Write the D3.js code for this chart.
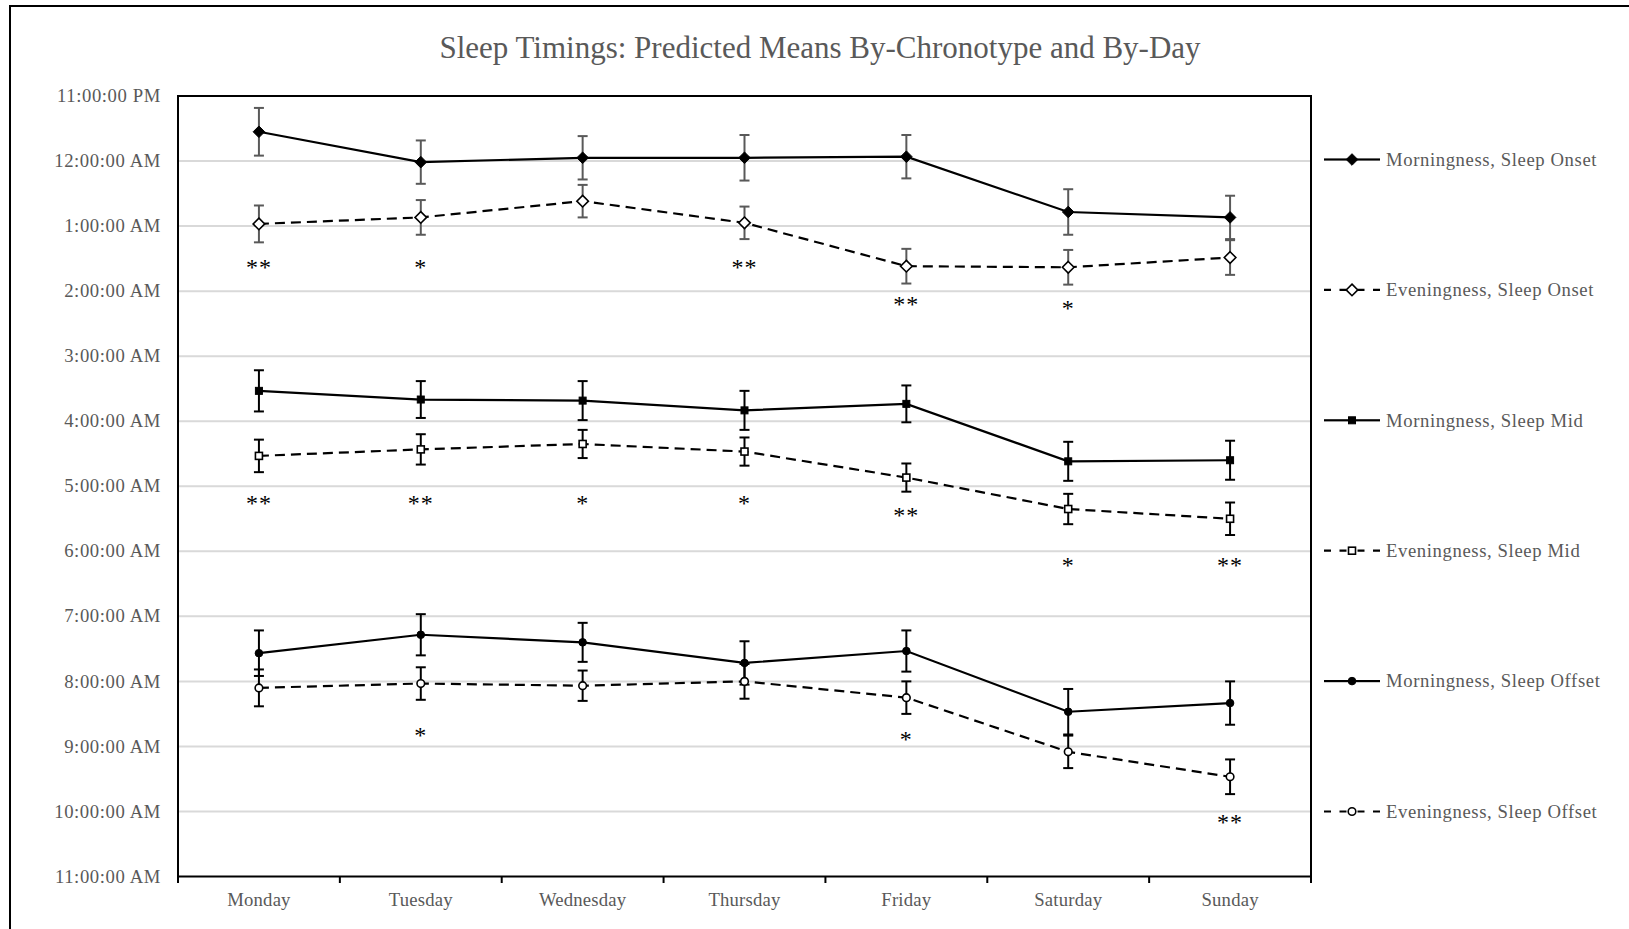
<!DOCTYPE html>
<html>
<head>
<meta charset="utf-8">
<script src="https://cdn.jsdelivr.net/npm/d3@7"></script>
<style>
  html, body { margin: 0; padding: 0; background: #ffffff; overflow: hidden; }
  svg { display: block; }
  text { font-family: "Liberation Serif", "Times New Roman", serif; }
</style>
</head>
<body>
<svg id="chart" width="1629" height="929"></svg>
<script>
// ---- Data: predicted mean clock times (HH:MM) and error half-widths (minutes) ----
const days = ["Monday", "Tuesday", "Wednesday", "Thursday", "Friday", "Saturday", "Sunday"];

const morningOnset    = ["23:33", "00:01", "23:57", "23:57", "23:56", "00:47", "00:52"];
const morningOnsetErr = [22, 20, 20, 21, 20, 21, 20];
const eveningOnset    = ["00:58", "00:52", "00:37", "00:57", "01:37", "01:38", "01:29"];
const eveningOnsetErr = [17, 16, 15, 15, 16, 16, 16];

const morningMid      = ["03:32", "03:40", "03:41", "03:50", "03:44", "04:37", "04:36"];
const morningMidErr   = [19, 17, 18, 18, 17, 18, 18];
const eveningMid      = ["04:32", "04:26", "04:21", "04:28", "04:52", "05:21", "05:30"];
const eveningMidErr   = [15, 14, 13, 13, 13, 14, 15];

const morningOffset    = ["07:34", "07:17", "07:24", "07:43", "07:32", "08:28", "08:20"];
const morningOffsetErr = [21, 19, 18, 20, 19, 21, 20];
const eveningOffset    = ["08:06", "08:02", "08:04", "08:00", "08:15", "09:05", "09:28"];
const eveningOffsetErr = [17, 15, 14, 16, 15, 15, 16];

// Significance of the chronotype difference per day, and the clock time each mark sits at
const onsetSig     = ["**", "*", "", "**", "**", "*", ""];
const onsetSigAt   = ["01:36", "01:36", "", "01:36", "02:10", "02:14", ""];
const midSig       = ["**", "**", "*", "*", "**", "*", "**"];
const midSigAt     = ["05:14", "05:14", "05:14", "05:14", "05:25", "06:11", "06:11"];
const offsetSig    = ["", "*", "", "", "*", "", "**"];
const offsetSigAt  = ["", "08:48", "", "", "08:51", "", "10:08"];

const axisStart = "23:00";
const axisEnd   = "11:00";
const title = "Sleep Timings: Predicted Means By-Chronotype and By-Day";

// ---- Helpers ----
const midnight = new Date(2021, 0, 4, 0, 0, 0);
function toDate(hm) {
  const [h, m] = hm.split(":").map(Number);
  let mins = h * 60 + m;
  if (h >= 12) mins -= 1440;           // evening times belong to the previous day
  return new Date(midnight.getTime() + mins * 60000);
}
function shift(date, mins) { return new Date(date.getTime() + mins * 60000); }

const series = [
  { name: "Morningness, Sleep Onset",    vals: morningOnset,  err: morningOnsetErr,  shape: "diamond", filled: true,  dashed: false, errColor: "#595959" },
  { name: "Eveningness, Sleep Onset",    vals: eveningOnset,  err: eveningOnsetErr,  shape: "diamond", filled: false, dashed: true,  errColor: "#595959" },
  { name: "Morningness, Sleep Mid",      vals: morningMid,    err: morningMidErr,    shape: "square",  filled: true,  dashed: false, errColor: "#000000" },
  { name: "Eveningness, Sleep Mid",      vals: eveningMid,    err: eveningMidErr,    shape: "square",  filled: false, dashed: true,  errColor: "#000000" },
  { name: "Morningness, Sleep Offset",   vals: morningOffset, err: morningOffsetErr, shape: "circle",  filled: true,  dashed: false, errColor: "#000000" },
  { name: "Eveningness, Sleep Offset",   vals: eveningOffset, err: eveningOffsetErr, shape: "circle",  filled: false, dashed: true,  errColor: "#000000" }
];
const annotations = [
  { marks: onsetSig,  at: onsetSigAt },
  { marks: midSig,    at: midSigAt },
  { marks: offsetSig, at: offsetSigAt }
];

// ---- Layout ----
const plot = { left: 178, right: 1311, top: 96, bottom: 876.5 };
const svg = d3.select("#chart");

const x = d3.scaleBand().domain(days).range([plot.left, plot.right]).padding(0);
const cx = d => x(d) + x.bandwidth() / 2;
const y = d3.scaleTime().domain([toDate(axisStart), toDate(axisEnd)]).range([plot.top, plot.bottom]);

// Outer frame of the figure
svg.append("path")
  .attr("d", "M10,940 V6 H1640")
  .attr("fill", "none").attr("stroke", "#000").attr("stroke-width", 2);

// Title
svg.append("text")
  .attr("x", 820).attr("y", 58)
  .attr("text-anchor", "middle")
  .attr("font-size", 31)
  .attr("fill", "#595959")
  .text(title);

// Horizontal gridlines, one per hour
const hourTicks = y.ticks(d3.timeHour.every(1));
svg.append("g").selectAll("line")
  .data(hourTicks.slice(1, -1))
  .join("line")
  .attr("x1", plot.left).attr("x2", plot.right)
  .attr("y1", d => y(d)).attr("y2", d => y(d))
  .attr("stroke", "#d9d9d9").attr("stroke-width", 2);

// Y axis labels
const yAxis = svg.append("g")
  .attr("transform", `translate(${plot.left},0)`)
  .call(d3.axisLeft(y).ticks(d3.timeHour.every(1))
    .tickFormat(d3.timeFormat("%-I:%M:%S %p"))
    .tickSize(0).tickPadding(17));
yAxis.select(".domain").remove();
yAxis.selectAll("text")
  .attr("font-family", "Liberation Serif, Times New Roman, serif")
  .attr("font-size", 18.7)
  .attr("letter-spacing", 0.6)
  .attr("fill", "#595959")
  .attr("dy", "0.3em");

// X axis labels
const xAxis = svg.append("g")
  .attr("transform", `translate(0,${plot.bottom})`)
  .call(d3.axisBottom(x).tickSize(0).tickPadding(16));
xAxis.select(".domain").remove();
xAxis.selectAll("text")
  .attr("font-family", "Liberation Serif, Times New Roman, serif")
  .attr("font-size", 18.7)
  .attr("letter-spacing", 0.2)
  .attr("fill", "#595959");

// Category boundary ticks
const boundaries = days.map(d => x(d)).concat([plot.right]);
svg.append("g").selectAll("line")
  .data(boundaries)
  .join("line")
  .attr("x1", d => d).attr("x2", d => d)
  .attr("y1", plot.bottom).attr("y2", plot.bottom + 6.5)
  .attr("stroke", "#000").attr("stroke-width", 2);

// Plot frame
svg.append("rect")
  .attr("x", plot.left).attr("y", plot.top)
  .attr("width", plot.right - plot.left).attr("height", plot.bottom - plot.top)
  .attr("fill", "none").attr("stroke", "#000").attr("stroke-width", 2);

// Marker drawing
function drawMarker(sel, s) {
  if (s.shape === "diamond") {
    const r = 5.8;
    sel.append("path").attr("d", `M0,${-r} L${r},0 L0,${r} L${-r},0 Z`);
  } else if (s.shape === "square") {
    sel.append("rect").attr("x", -3.5).attr("y", -3.5).attr("width", 7).attr("height", 7);
  } else {
    sel.append("circle").attr("r", 3.8);
  }
  sel.selectAll("path,rect,circle")
    .attr("fill", s.filled ? "#000" : "#fff")
    .attr("stroke", "#000")
    .attr("stroke-width", s.filled ? 1 : 1.6);
}

const line = d3.line().x(d => cx(d.day)).y(d => y(d.t));

series.forEach(s => {
  const pts = days.map((d, i) => ({ day: d, t: toDate(s.vals[i]), e: s.err[i] }));
  const g = svg.append("g");

  // error bars
  const eb = g.append("g").selectAll("g").data(pts).join("g");
  eb.append("line")
    .attr("x1", d => cx(d.day)).attr("x2", d => cx(d.day))
    .attr("y1", d => y(shift(d.t, -d.e))).attr("y2", d => y(shift(d.t, d.e)))
    .attr("stroke", s.errColor).attr("stroke-width", 2);
  [-1, 1].forEach(sign => {
    eb.append("line")
      .attr("x1", d => cx(d.day) - 5).attr("x2", d => cx(d.day) + 5)
      .attr("y1", d => y(shift(d.t, sign * d.e))).attr("y2", d => y(shift(d.t, sign * d.e)))
      .attr("stroke", s.errColor).attr("stroke-width", 2);
  });

  // connecting line
  g.append("path").datum(pts)
    .attr("d", line)
    .attr("fill", "none").attr("stroke", "#000").attr("stroke-width", 2.2)
    .attr("stroke-dasharray", s.dashed ? "10,6" : null);

  // markers
  g.append("g").selectAll("g").data(pts).join("g")
    .attr("transform", d => `translate(${cx(d.day)},${y(d.t)})`)
    .each(function () { drawMarker(d3.select(this), s); });
});

// Significance marks
annotations.forEach(a => {
  svg.append("g").selectAll("text")
    .data(days.map((d, i) => ({ day: d, mark: a.marks[i], at: a.at[i] })).filter(d => d.mark))
    .join("text")
    .attr("x", d => cx(d.day))
    .attr("y", d => y(toDate(d.at)) + 10)
    .attr("text-anchor", "middle")
    .attr("font-size", 24)
    .attr("letter-spacing", 1)
    .attr("fill", "#000")
    .text(d => d.mark);
});

// Legend
const legend = svg.append("g");
const legTop = 159.5, legStep = 130.4, legX0 = 1324, legX1 = 1380, legMid = 1352;
series.forEach((s, i) => {
  const ly = legTop + i * legStep;
  const item = legend.append("g");
  [[legX0, legMid], [legX1, legMid]].forEach(([a, b]) => {
    item.append("line")
      .attr("x1", a).attr("x2", b).attr("y1", ly).attr("y2", ly)
      .attr("stroke", "#000").attr("stroke-width", 2.2)
      .attr("stroke-dasharray", s.dashed ? "7,8.5" : null);
  });
  const m = item.append("g").attr("transform", `translate(${legMid},${ly})`);
  drawMarker(m, s);
  item.append("text")
    .attr("x", 1386).attr("y", ly + 6.3)
    .attr("font-size", 18.7)
    .attr("letter-spacing", 0.6)
    .attr("fill", "#595959")
    .text(s.name);
});
</script>
</body>
</html>
